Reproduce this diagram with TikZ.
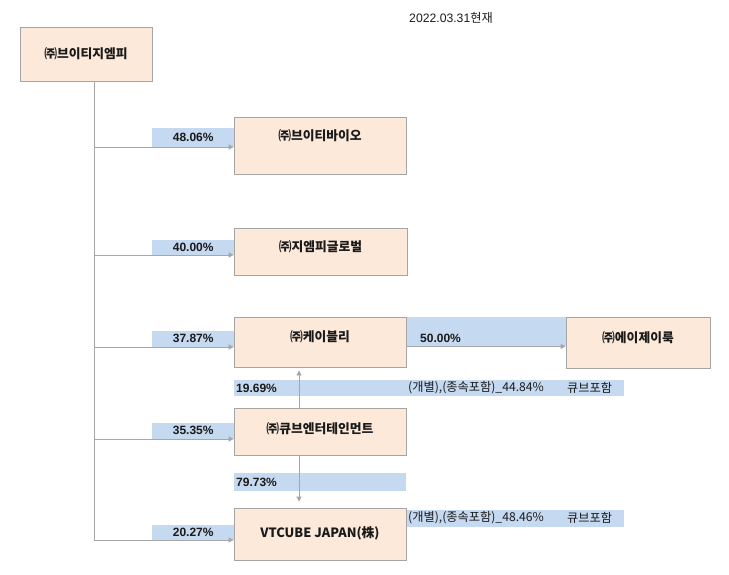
\documentclass[tikz,border=0pt]{standalone}
\usepackage{fontspec}
\setmainfont{Liberation Sans}
\newfontfamily\kr{Noto Sans CJK KR}
\usetikzlibrary{arrows.meta}

\definecolor{peach}{HTML}{FCE9DA}
\definecolor{boxline}{HTML}{A5A5A5}
\definecolor{barblue}{HTML}{C5D9F1}
\definecolor{linegray}{HTML}{A6A6A6}
\definecolor{txt}{HTML}{1A1A1A}

\begin{document}
\begin{tikzpicture}[x=1pt,y=-1pt,
    firm/.style={draw=boxline, fill=peach, inner sep=0, line width=0.8pt},
    firmname/.style={font=\kr\bfseries\fontsize{12.8}{14}\selectfont, text=txt, inner sep=0},
    share/.style={fill=barblue, inner sep=0, font=\bfseries\fontsize{12}{14}\selectfont, text=txt},
    sharetext/.style={inner sep=0, anchor=west, font=\bfseries\fontsize{12}{14}\selectfont, text=txt},
    note/.style={inner sep=0, anchor=west, font=\kr\fontsize{12.2}{14}\selectfont, text=txt},
    link/.style={draw=linegray, line width=0.8pt, -{Triangle[length=5pt,width=5pt]}}]

\useasboundingbox (0,0) rectangle (729,575);

% Date
\node[inner sep=0, font=\fontsize{12.2}{14}\selectfont, text=txt] (asof) at (451,18) {2022.03.31{\kr 현재}};

% Share bars (behind boxes and arrows)
\node[share, anchor=south west, minimum width=82, minimum height=19] (s1) at (152,147) {48.06\%};
\node[share, anchor=south west, minimum width=82, minimum height=15] (s2) at (152,255) {40.00\%};
\node[share, anchor=south west, minimum width=82, minimum height=16] (s3) at (152,347) {37.87\%};
\node[share, anchor=south west, minimum width=82, minimum height=16] (s4) at (152,439) {35.35\%};
\node[share, anchor=south west, minimum width=82, minimum height=15] (s5) at (152,540) {20.27\%};

% Bar between KBLY and AJLOOK
\node[share, anchor=north west, minimum width=160, minimum height=29] (s50) at (406,317) {};
\node[sharetext] (s50text) at (420,338) {50.00\%};

% Bar under KBLY
\node[share, anchor=north west, minimum width=390, minimum height=16] (s1969) at (234,380) {};
\node[sharetext] (s1969text) at (236,388) {19.69\%};
\node[note] (s1969note) at (408,388) {(개별),(종속포함)\_44.84\%};
\node[note] (s1969cube) at (567,388) {큐브포함};

% Bar under CUBE
\node[share, anchor=north west, minimum width=172, minimum height=18] (s7973) at (234,473) {};
\node[sharetext] (s7973text) at (236,482) {79.73\%};

% Bar beside VTCUBE JAPAN
\node[share, anchor=north west, minimum width=218, minimum height=17] (s4846) at (406,510) {};
\node[note] (s4846note) at (408,518) {(개별),(종속포함)\_48.46\%};
\node[note] (s4846cube) at (567,518) {큐브포함};

% Companies
\node[firm, minimum width=132, minimum height=54] (btj) at (86,54) {};
\node[firmname] (btjname) at (86,54) {㈜브이티지엠피};

\node[firm, minimum width=172, minimum height=57] (bio) at (320,145.5) {};
\node[firmname] (bioname) at (320,136) {㈜브이티바이오};

\node[firm, minimum width=173, minimum height=47] (glob) at (320.5,251.5) {};
\node[firmname] (globname) at (320.5,247) {㈜지엠피글로벌};

\node[firm, minimum width=172, minimum height=50] (kbl) at (320,342) {};
\node[firmname] (kblname) at (320,337) {㈜케이블리};

\node[firm, minimum width=144, minimum height=51] (ajl) at (638,342.5) {};
\node[firmname] (ajlname) at (638,338) {㈜에이제이룩};

\node[firm, minimum width=172, minimum height=47] (cube) at (320,431.5) {};
\node[firmname] (cubename) at (320,429) {㈜큐브엔터테인먼트};

\node[firm, minimum width=172, minimum height=52] (vtc) at (320,534) {};
\node[firmname] (vtcname) at (320,533) {VTCUBE JAPAN({\kr 株})};

% Holdings of the parent
\coordinate (trunk) at ([xshift=8pt]btj.south);
\draw[link] (trunk) |- (bio.west |- s1.south);
\draw[link] (trunk) |- (glob.west |- s2.south);
\draw[link] (trunk) |- (kbl.west |- s3.south);
\draw[link] (trunk) |- (cube.west |- s4.south);
\draw[link] (trunk) |- (vtc.west |- s5.south);

% Other holdings
\draw[link] (kbl.east |- s50.south) -- (ajl.west |- s50.south);
\draw[link, shorten >=3pt] ([xshift=-21pt]cube.north) -- ([xshift=-21pt]kbl.south);
\draw[link, shorten >=6pt] ([xshift=-21pt]cube.south) -- ([xshift=-21pt]vtc.north);

\end{tikzpicture}
\end{document}
